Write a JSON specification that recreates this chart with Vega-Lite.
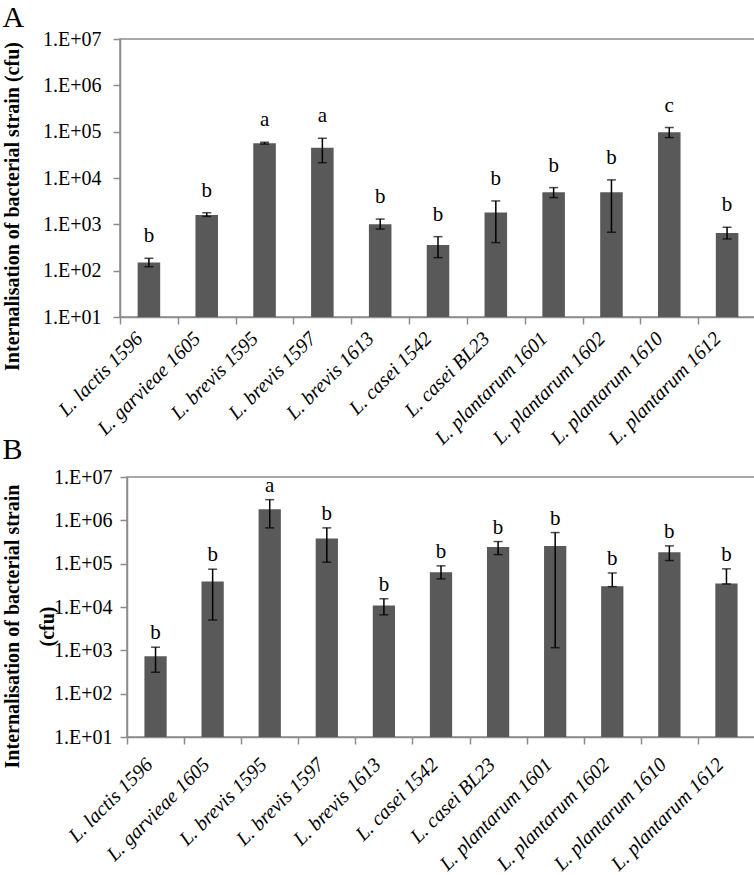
{
  "$schema": "https://vega.github.io/schema/vega-lite/v6.json",
  "padding": {"left": 0, "top": 2, "right": 0, "bottom": 0},
  "background": "white",
  "spacing": -15,
  "datasets": {
    "A": [
      {"strain": "L. lactis 1596", "mean": 150, "low": 122, "high": 185, "letter": "b"},
      {"strain": "L. garvieae 1605", "mean": 1600, "low": 1480, "high": 1780, "letter": "b"},
      {"strain": "L. brevis 1595", "mean": 56000, "low": 54000, "high": 59000, "letter": "a"},
      {"strain": "L. brevis 1597", "mean": 45000, "low": 21400, "high": 72000, "letter": "a"},
      {"strain": "L. brevis 1613", "mean": 1000, "low": 790, "high": 1300, "letter": "b"},
      {"strain": "L. casei 1542", "mean": 360, "low": 191, "high": 542, "letter": "b"},
      {"strain": "L. casei BL23", "mean": 1790, "low": 403, "high": 3200, "letter": "b"},
      {"strain": "L. plantarum 1601", "mean": 4930, "low": 3780, "high": 6200, "letter": "b"},
      {"strain": "L. plantarum 1602", "mean": 4930, "low": 675, "high": 9100, "letter": "b"},
      {"strain": "L. plantarum 1610", "mean": 97500, "low": 74600, "high": 123000, "letter": "c"},
      {"strain": "L. plantarum 1612", "mean": 652, "low": 484, "high": 865, "letter": "b"}
    ],
    "B": [
      {"strain": "L. lactis 1596", "mean": 731, "low": 312, "high": 1180, "letter": "b"},
      {"strain": "L. garvieae 1605", "mean": 38600, "low": 5000, "high": 74600, "letter": "b"},
      {"strain": "L. brevis 1595", "mean": 1810000, "low": 670000, "high": 3000000, "letter": "a"},
      {"strain": "L. brevis 1597", "mean": 380000, "low": 108000, "high": 670000, "letter": "b"},
      {"strain": "L. brevis 1613", "mean": 10800, "low": 6600, "high": 15500, "letter": "b"},
      {"strain": "L. casei 1542", "mean": 63000, "low": 44600, "high": 89000, "letter": "b"},
      {"strain": "L. casei BL23", "mean": 244000, "low": 162000, "high": 324000, "letter": "b"},
      {"strain": "L. plantarum 1601", "mean": 257000, "low": 1150, "high": 522000, "letter": "b"},
      {"strain": "L. plantarum 1602", "mean": 30200, "low": 29500, "high": 61000, "letter": "b"},
      {"strain": "L. plantarum 1610", "mean": 184000, "low": 118000, "high": 257000, "letter": "b"},
      {"strain": "L. plantarum 1612", "mean": 34700, "low": 34000, "high": 76000, "letter": "b"}
    ]
  },
  "config": {
    "font": "Liberation Serif",
    "view": {"stroke": "#8c8c8c", "strokeWidth": 1.5},
    "axis": {
      "domainColor": "#8c8c8c", "tickColor": "#8c8c8c", "domainWidth": 1.5, "tickWidth": 1.5,
      "labelColor": "#000000", "titleColor": "#000000",
      "labelFont": "Liberation Serif", "titleFont": "Liberation Serif",
      "labelFontSize": 20, "grid": false, "tickSize": 7
    },
    "title": {"font": "Liberation Serif", "fontSize": 30, "fontWeight": "normal", "anchor": "start", "frame": "bounds", "color": "#000000"}
  },
  "vconcat": [
    {
      "spacing": 0,
      "hconcat": [
        {
          "width": 1, "height": 1,
          "view": {"stroke": null},
          "data": {"values": []},
          "mark": {"type": "point", "opacity": 0},
          "encoding": {}
        },
        {
          "title": {"text": "A", "offset": -4},
          "width": 636,
          "height": 278,
          "data": {"name": "A"},
          "encoding": {
            "x": {
              "field": "strain", "type": "nominal", "sort": null,
              "scale": {"paddingInner": 0.61, "paddingOuter": 0.305},
              "axis": {"title": null, "labelAngle": -45, "labelFontStyle": "italic", "labelFontSize": 20, "tickOffset": -28.91, "labelOffset": 12, "labelPadding": 4}
            }
          },
          "layer": [
            {
              "mark": {"type": "bar", "color": "#595959"},
              "encoding": {
                "y": {
                  "field": "mean", "type": "quantitative",
                  "scale": {"type": "log", "domain": [10, 10000000]},
                  "axis": {
                    "title": "Internalisation of bacterial strain (cfu)",
                    "titleFontSize": 20, "titleFontWeight": "bold", "titleY": 167, "titlePadding": 20,
                    "values": [10, 100, 1000, 10000, 100000, 1000000, 10000000],
                    "labelExpr": "'1.E+0' + round(log(datum.value)/LN10)",
                    "labelPadding": 12
                  }
                },
                "y2": {"datum": 10}
              }
            },
            {
              "mark": {"type": "rule", "strokeWidth": 1.5, "color": "#000000"},
              "encoding": {"y": {"field": "low", "type": "quantitative"}, "y2": {"field": "high"}}
            },
            {
              "mark": {"type": "tick", "thickness": 1.5, "size": 9, "color": "#000000"},
              "encoding": {"y": {"field": "low", "type": "quantitative"}}
            },
            {
              "mark": {"type": "tick", "thickness": 1.5, "size": 9, "color": "#000000"},
              "encoding": {"y": {"field": "high", "type": "quantitative"}}
            },
            {
              "mark": {"type": "text", "fontSize": 21, "dy": -16, "baseline": "alphabetic", "color": "#000000"},
              "encoding": {"y": {"field": "high", "type": "quantitative"}, "text": {"field": "letter"}}
            }
          ]
        }
      ]
    },
    {
      "spacing": 0,
      "hconcat": [
        {
          "width": 1, "height": 1,
          "view": {"stroke": null},
          "data": {"values": []},
          "mark": {"type": "point", "opacity": 0},
          "encoding": {}
        },
        {
          "title": {"text": "B", "offset": 2},
          "width": 628,
          "height": 260,
          "data": {"name": "B"},
          "encoding": {
            "x": {
              "field": "strain", "type": "nominal", "sort": null,
              "scale": {"paddingInner": 0.61, "paddingOuter": 0.305},
              "axis": {"title": null, "labelAngle": -45, "labelFontStyle": "italic", "labelFontSize": 20, "tickOffset": -28.55, "labelOffset": 15, "labelPadding": 10}
            }
          },
          "layer": [
            {
              "mark": {"type": "bar", "color": "#595959"},
              "encoding": {
                "y": {
                  "field": "mean", "type": "quantitative",
                  "scale": {"type": "log", "domain": [10, 10000000]},
                  "axis": {
                    "title": ["Internalisation of bacterial strain", "(cfu)"],
                    "titleFontSize": 20, "titleFontWeight": "bold", "titleY": 149, "titlePadding": -4, "titleLineHeight": 35,
                    "values": [10, 100, 1000, 10000, 100000, 1000000, 10000000],
                    "labelExpr": "'1.E+0' + round(log(datum.value)/LN10)",
                    "labelPadding": 8
                  }
                },
                "y2": {"datum": 10}
              }
            },
            {
              "mark": {"type": "rule", "strokeWidth": 1.5, "color": "#000000"},
              "encoding": {"y": {"field": "low", "type": "quantitative"}, "y2": {"field": "high"}}
            },
            {
              "mark": {"type": "tick", "thickness": 1.5, "size": 9, "color": "#000000"},
              "encoding": {"y": {"field": "low", "type": "quantitative"}}
            },
            {
              "mark": {"type": "tick", "thickness": 1.5, "size": 9, "color": "#000000"},
              "encoding": {"y": {"field": "high", "type": "quantitative"}}
            },
            {
              "mark": {"type": "text", "fontSize": 21, "dy": -8, "baseline": "alphabetic", "color": "#000000"},
              "encoding": {"y": {"field": "high", "type": "quantitative"}, "text": {"field": "letter"}}
            }
          ]
        }
      ]
    }
  ]
}
